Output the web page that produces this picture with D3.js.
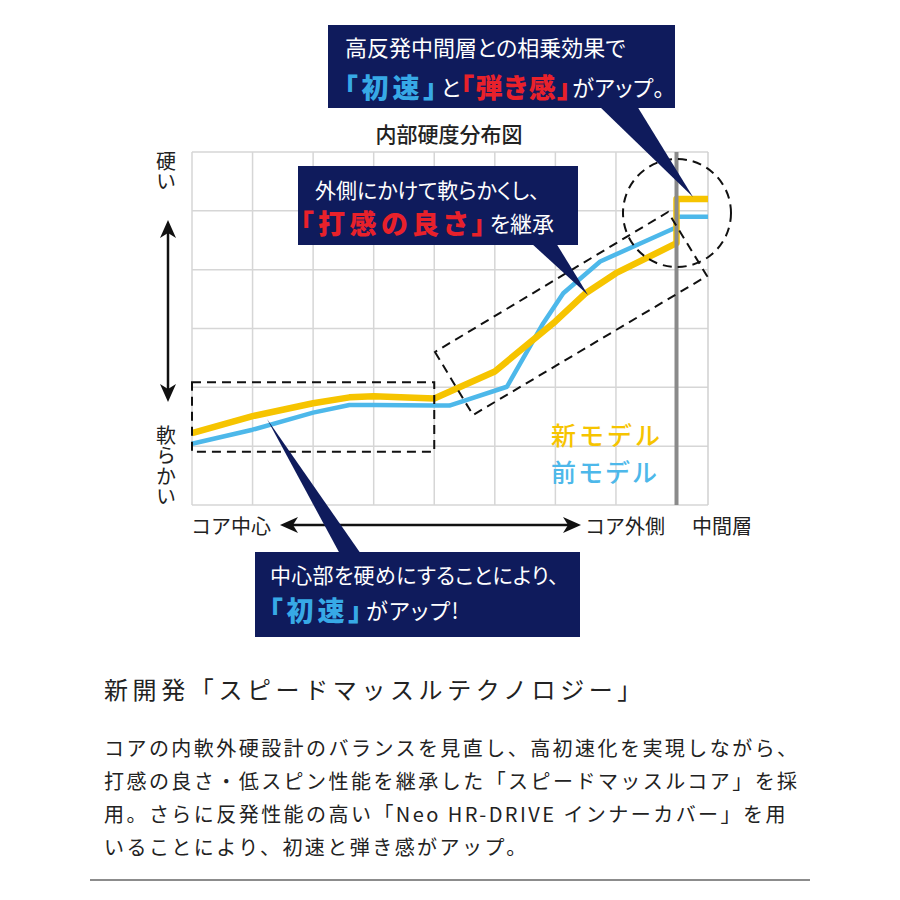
<!DOCTYPE html>
<html><head><meta charset="utf-8">
<script src="https://cdn.jsdelivr.net/npm/d3@7"></script>
<style>
body{margin:0;background:#fff}
svg{display:block}
text{font-family:"Noto Sans CJK JP","Noto Sans",sans-serif}
.palt{font-feature-settings:"palt"}
.vert{writing-mode:vertical-rl}
</style>
</head><body>
<svg id="c" width="900" height="900"></svg>
<script>
// ---- data ----
const chartTitle = "内部硬度分布図";
const gridCols = [0,1,2,3,4,5,6,7,8];
const gridRows = [0,1,2,3,4,5,6];
const newPos = [0,1,2,2.6,3,4,5,6,6.5,7,8];
const newVal = [1.22,1.51,1.73,1.83,1.85,1.81,2.27,3.12,3.60,3.94,4.45];
const oldPos = [0,1,2,2.6,3,4,4.25,5.2,5.8,6.13,6.74,8];
const oldVal = [1.04,1.28,1.57,1.70,1.70,1.69,1.69,2.01,3.09,3.60,4.14,4.72];
const midLayerPos = [8, 8.52];
const newMid = 5.20;
const oldMid = 4.90;
const legendLabels = ["新モデル","前モデル"];
const xAxisLabels = ["コア中心","コア外側","中間層"];
const yTopLabel = "硬い";
const yBottomLabel = "軟らかい";
const heading = "新開発「スピードマッスルテクノロジー」";
const paragraph = [
  "コアの内軟外硬設計のバランスを見直し、高初速化を実現しながら、",
  "打感の良さ・低スピン性能を継承した「スピードマッスルコア」を採",
  "用。さらに反発性能の高い「Neo HR-DRIVE インナーカバー」を用",
  "いることにより、初速と弾き感がアップ。"
];

const YEL = "#f6c400", BLU = "#4db8ea", NAVY = "#0f1b5c", RED = "#e8212b", TBLU = "#37a9e6";

const svg = d3.select("#c");
const xS = d3.scaleLinear().domain([0, 8.52]).range([192, 708]);
const yS = d3.scaleLinear().domain([0, 6]).range([505, 152]);

// title
svg.append("text").attr("x", 449).attr("y", 133).attr("text-anchor","middle")
  .attr("dominant-baseline","central").attr("font-size",21).attr("font-weight",500)
  .attr("fill","#222").text(chartTitle);

// grid
const g = svg.append("g");
g.selectAll(".vg").data(gridCols).join("line")
  .attr("x1", d=>xS(d)).attr("x2", d=>xS(d)).attr("y1", yS(0)).attr("y2", yS(6))
  .attr("stroke","#d6d6d6").attr("stroke-width",1.5);
g.selectAll(".hg").data(gridRows).join("line")
  .attr("x1", xS(0)).attr("x2", xS(8.52)).attr("y1", d=>yS(d)).attr("y2", d=>yS(d))
  .attr("stroke","#d6d6d6").attr("stroke-width",1.5);
g.append("line").attr("x1", xS(8.52)).attr("x2", xS(8.52)).attr("y1", yS(0)).attr("y2", yS(6))
  .attr("stroke","#d0d0d0").attr("stroke-width",1.5);

// lines
const line = d3.line().x(d=>xS(d[0])).y(d=>yS(d[1]));
const oldSeries = oldPos.map((p,i)=>[p, oldVal[i]]).concat(midLayerPos.map(p=>[p, oldMid]));
const newSeries = newPos.map((p,i)=>[p, newVal[i]]).concat(midLayerPos.map(p=>[p, newMid]));
svg.append("path").attr("d", line(oldSeries)).attr("fill","none").attr("stroke",BLU)
  .attr("stroke-width",4.5).attr("stroke-linejoin","round");
svg.append("path").attr("d", line(newSeries)).attr("fill","none").attr("stroke",YEL)
  .attr("stroke-width",6.5).attr("stroke-linejoin","round");

// gray boundary (core / middle layer)
svg.append("line").attr("x1", xS(8)).attr("x2", xS(8)).attr("y1", yS(6)).attr("y2", yS(0))
  .attr("stroke","#8a8a8a").attr("stroke-width",4);

// dashed annotations
const dash = {stroke:"#111", "stroke-width":2, "stroke-dasharray":"9,6", fill:"none"};
function applyAttrs(sel, o){ for (const k in o) sel.attr(k, o[k]); return sel; }
applyAttrs(svg.append("rect").attr("x", xS(0)).attr("y", yS(2.085))
  .attr("width", xS(4)-xS(0)).attr("height", yS(0.905)-yS(2.085)), dash);
applyAttrs(svg.append("path").attr("d","M435,352 L473,415 L707,276 L668,212 Z"), dash);
applyAttrs(svg.append("circle").attr("cx",677).attr("cy",213).attr("r",54), dash);

// legend
svg.append("text").attr("x",551).attr("y",433.5).attr("dominant-baseline","central")
  .attr("font-size",25).attr("letter-spacing",3).attr("font-weight",500).attr("fill",YEL).text(legendLabels[0]);
svg.append("text").attr("x",551).attr("y",470.5).attr("dominant-baseline","central")
  .attr("font-size",25).attr("letter-spacing",2).attr("font-weight",500).attr("fill",BLU).text(legendLabels[1]);

// y axis labels (vertical writing)
svg.append("text").attr("class","vert").attr("x",166).attr("y",151)
  .attr("font-size",20).attr("letter-spacing",0.5).attr("fill","#222").text(yTopLabel);
svg.append("text").attr("class","vert").attr("x",166).attr("y",425)
  .attr("font-size",20).attr("letter-spacing",0.5).attr("fill","#222").text(yBottomLabel);

// arrows
function head(tx,ty,dx,dy){
  const L=18,W=8,N=13, px=-dy, py=dx;
  return `M${tx},${ty} L${tx-dx*L+px*W},${ty-dy*L+py*W} L${tx-dx*N},${ty-dy*N} L${tx-dx*L-px*W},${ty-dy*L-py*W} Z`;
}
svg.append("line").attr("x1",168).attr("x2",168).attr("y1",226).attr("y2",396).attr("stroke","#111").attr("stroke-width",2.5);
svg.append("path").attr("d",head(168,220,0,-1)).attr("fill","#111");
svg.append("path").attr("d",head(168,402,0,1)).attr("fill","#111");
svg.append("line").attr("x1",286).attr("x2",574).attr("y1",525).attr("y2",525).attr("stroke","#111").attr("stroke-width",2.5);
svg.append("path").attr("d",head(280,525,-1,0)).attr("fill","#111");
svg.append("path").attr("d",head(581,525,1,0)).attr("fill","#111");

// x labels
svg.append("text").attr("x",191).attr("y",525).attr("dominant-baseline","central").attr("font-size",20).attr("fill","#222").text(xAxisLabels[0]);
svg.append("text").attr("x",585).attr("y",525).attr("dominant-baseline","central").attr("font-size",20).attr("fill","#222").text(xAxisLabels[1]);
svg.append("text").attr("x",692).attr("y",525).attr("dominant-baseline","central").attr("font-size",20).attr("fill","#222").text(xAxisLabels[2]);

// callouts
function callout(box, tri){
  svg.append("polygon").attr("points", tri.map(p=>p.join(",")).join(" ")).attr("fill",NAVY);
  svg.append("rect").attr("x",box[0]).attr("y",box[1]).attr("width",box[2]-box[0]).attr("height",box[3]-box[1]).attr("fill",NAVY);
}
function richLine(x,y,parts){
  const t = svg.append("text").attr("class","palt").attr("x",x).attr("y",y).attr("dominant-baseline","central");
  parts.forEach(p=>{
    t.append("tspan").attr("fill",p.c).attr("font-size",p.s).attr("font-weight",p.b?800:400)
      .attr("letter-spacing", p.ls||0).text(p.t);
  });
  return t;
}
// top
callout([328,25,675,108], [[599,106],[637,106],[693,197]]);
richLine(345,46,[{t:"高反発中間層との相乗効果で",c:"#fff",s:22}]);
richLine(344,86,[{t:"「初速」",c:TBLU,s:27,b:1,ls:4},{t:"と",c:"#fff",s:22},{t:"「弾き感」",c:RED,s:27,b:1,ls:1.5},{t:"がアップ。",c:"#fff",s:22,ls:0.5}]);
// middle
callout([298,166,578,245], [[531,243],[556,243],[588,295]]);
richLine(315,189,[{t:"外側にかけて軟らかくし、",c:"#fff",s:21}]);
richLine(300,222,[{t:"「打感の良さ」",c:RED,s:27,b:1,ls:4.5},{t:"を継承",c:"#fff",s:22}]);
// bottom
callout([255,552,580,637], [[340,554],[361,554],[267,419]]);
richLine(270,574,[{t:"中心部を硬めにすることにより、",c:"#fff",s:21,ls:0.3}]);
richLine(269,609,[{t:"「初速」",c:TBLU,s:27,b:1,ls:4},{t:"がアップ!",c:"#fff",s:22,ls:1.5}]);

// bottom text
svg.append("text").attr("x",104).attr("y",688).attr("dominant-baseline","central")
  .attr("font-size",24).attr("letter-spacing",4.6).attr("fill","#222").text(heading);
svg.selectAll(".para").data(paragraph).join("text")
  .attr("x",104).attr("y",(d,i)=>747+i*33).attr("dominant-baseline","central")
  .attr("font-size",20).attr("letter-spacing",2.45).attr("fill","#222").text(d=>d);
svg.append("line").attr("x1",90).attr("x2",810).attr("y1",880).attr("y2",880).attr("stroke","#666").attr("stroke-width",1.5);
</script>
</body></html>
